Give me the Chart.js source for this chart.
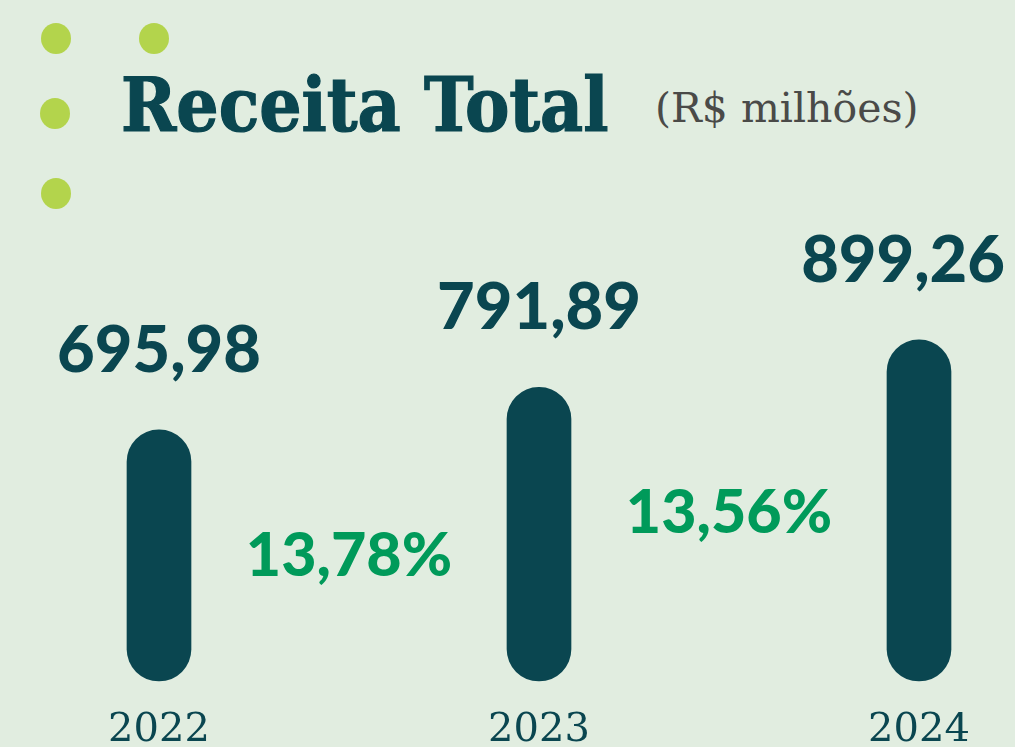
<!DOCTYPE html>
<html>
<head>
<meta charset="utf-8">
<script src="https://cdn.jsdelivr.net/npm/chart.js@4.4.1/dist/chart.umd.min.js"></script>
<style>
  html, body { margin: 0; padding: 0; background: #e1ede0; }
  #wrap { position: relative; width: 1015px; height: 747px; overflow: hidden; }
  #chart { position: absolute; left: 0; top: 0; }
  .dot { position: absolute; width: 30px; height: 31px; border-radius: 50%; background: #b3d44c; }
  #title {
    position: absolute; left: 121px; top: 68px; margin: 0;
    font-family: "DejaVu Serif", serif; font-stretch: condensed; font-weight: bold;
    font-size: 74px; line-height: 1; color: #0a4650; white-space: nowrap;
    -webkit-text-stroke: 1.2px #0a4650;
  }
  #unit {
    position: absolute; left: 655px; top: 88px;
    font-family: "DejaVu Serif", serif; font-size: 41px; line-height: 1;
    color: #4a4a48; white-space: nowrap;
  }
</style>
</head>
<body>
<div id="wrap">
  <div class="dot" style="left:41px;top:23px"></div>
  <div class="dot" style="left:139px;top:23px"></div>
  <div class="dot" style="left:40px;top:98px"></div>
  <div class="dot" style="left:41px;top:178px"></div>
  <h1 id="title">Receita Total</h1>
  <div id="unit">(R$ milhões)</div>
  <canvas id="chart" width="1015" height="747"></canvas>
</div>
<script>
// Data
const years = ["2022", "2023", "2024"];
const revenue = [695.98, 791.89, 899.26];
const growth = [13.78, 13.56];

// the value axis does not start at zero in the original
const axisFloor = 129;
const axisCeil = 1100;

const dark = "#0a4650";
const green = "#009a5a";

function fmt(v) {
  return v.toFixed(2).replace(".", ",");
}

// draws the value above each bar and the growth between bars
const labelPlugin = {
  id: "labels",
  afterDatasetsDraw(chart) {
    const ctx = chart.ctx;
    const bars = chart.getDatasetMeta(0).data;
    ctx.save();
    ctx.textAlign = "center";
    ctx.textBaseline = "alphabetic";
    ctx.fillStyle = dark;
    ctx.font = "900 65px Lato, sans-serif";
    bars.forEach((bar, i) => {
      const txt = fmt(revenue[i]);
      const half = ctx.measureText(txt).width / 2;
      // keep the last label inside the canvas
      const x = Math.min(bar.x, chart.width - half - 10);
      ctx.fillText(txt, x, bar.y - 58);
    });
    ctx.fillStyle = green;
    ctx.font = "900 61px Lato, sans-serif";
    growth.forEach((g, i) => {
      const a = bars[i], b = bars[i + 1];
      ctx.fillText(fmt(g) + "%", (a.x + b.x) / 2, a.y + 146);
    });
    ctx.restore();
  },
};

const ctx = document.getElementById("chart").getContext("2d");
new Chart(ctx, {
  type: "bar",
  data: {
    labels: years,
    datasets: [
      {
        data: revenue,
        base: axisFloor,
        backgroundColor: dark,
        barThickness: 64,
        borderRadius: 32,
        borderSkipped: false,
        clip: false,
      },
    ],
  },
  options: {
    responsive: false,
    animation: false,
    layout: { padding: { left: 159, right: 96, top: 251, bottom: 0 } },
    plugins: { legend: { display: false }, tooltip: { enabled: false } },
    scales: {
      x: {
        offset: false,
        grid: { display: false },
        border: { display: false },
        afterFit(scale) {
          scale.height = 66;
        },
        ticks: {
          padding: 18,
          color: dark,
          maxRotation: 0,
          font: { family: "DejaVu Serif", size: 40 },
        },
      },
      y: { display: false, min: axisFloor, max: axisCeil },
    },
  },
  plugins: [labelPlugin],
});
</script>
</body>
</html>
